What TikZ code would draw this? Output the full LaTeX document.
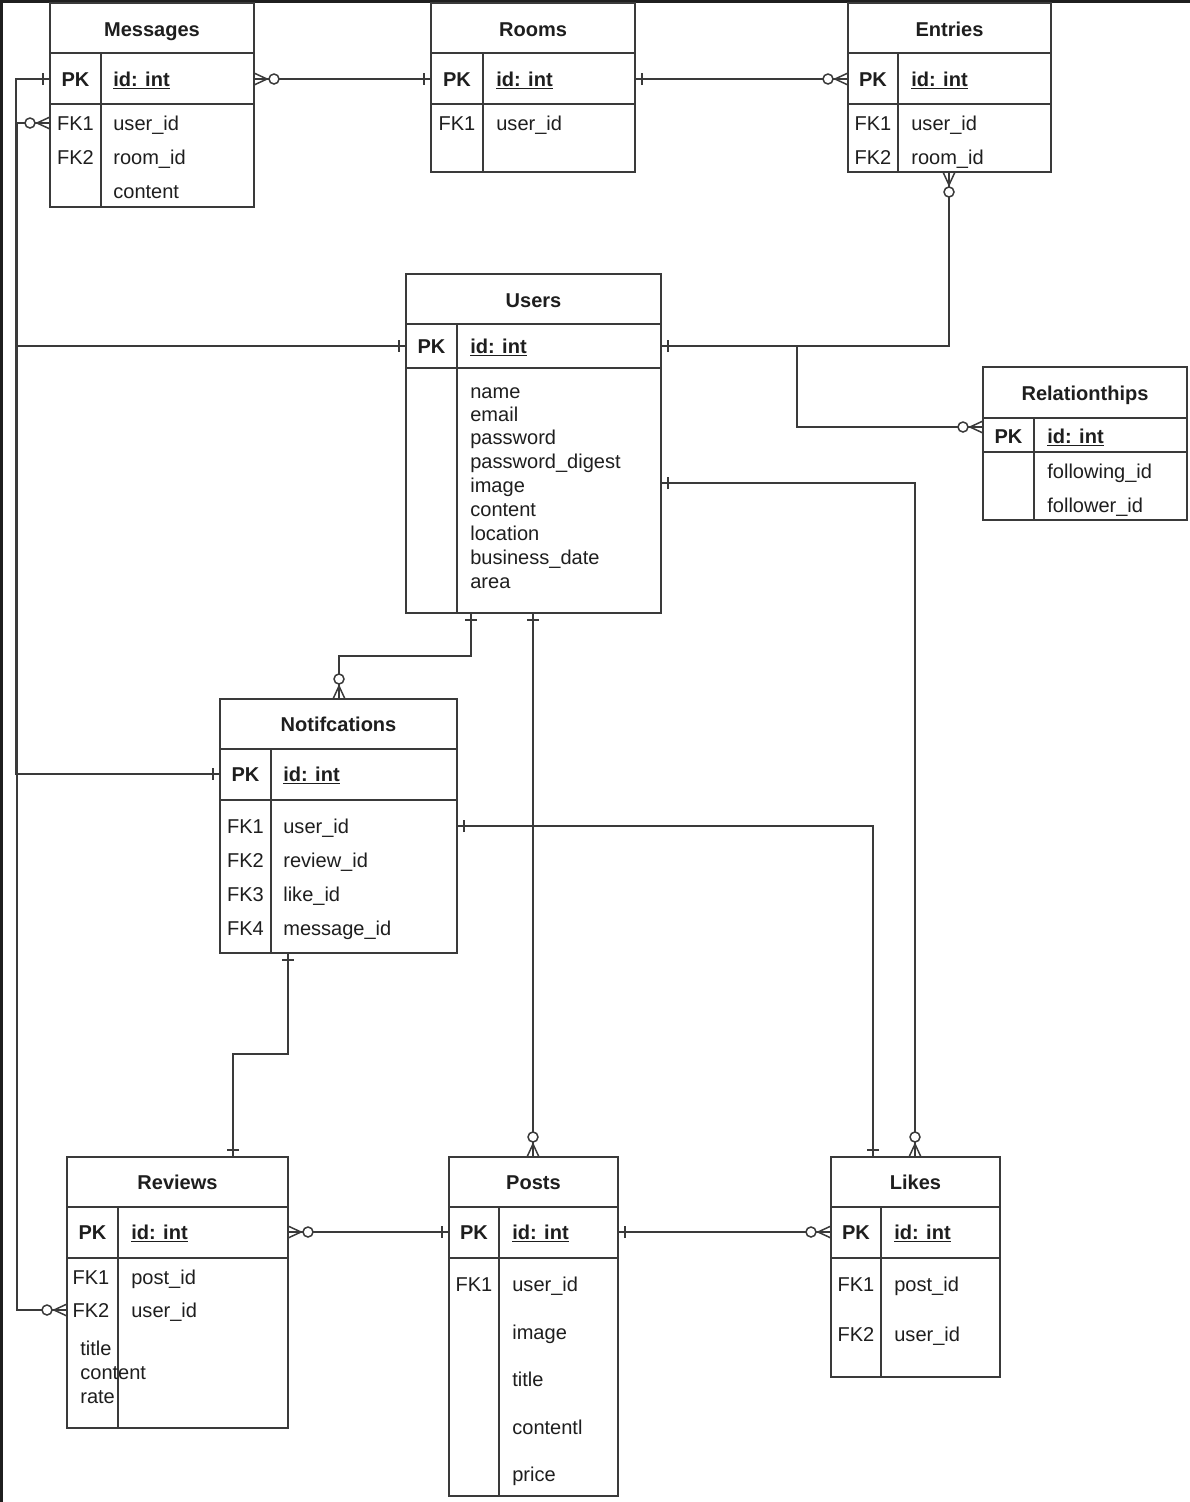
\documentclass[tikz,border=0pt]{standalone}
\usepackage{fontspec}
\setmainfont{Liberation Sans}
\definecolor{ln}{HTML}{3A3A3A}
\definecolor{tx}{HTML}{1E1E1E}
\tikzset{
  tbl/.style={draw=ln, line width=0.85pt},
  conn/.style={draw=ln, line width=0.85pt},
  ttl/.style={anchor=base, inner sep=0pt, text=tx, font=\fontsize{11.4}{13}\selectfont\bfseries},
  key/.style={anchor=base, inner sep=0pt, text=tx, font=\fontsize{11.4}{13}\selectfont},
  pkkey/.style={anchor=base, inner sep=0pt, text=tx, font=\fontsize{11.4}{13}\selectfont\bfseries},
  fld/.style={anchor=base west, inner sep=0pt, text=tx, font=\fontsize{11.4}{13}\selectfont},
  pkfld/.style={anchor=base west, inner sep=0pt, text=tx, font=\fontsize{11.4}{13}\selectfont\bfseries},
}
% table: name, x1, y1, x2, y2, title line y, pk line y, divider x
\newcommand\erbox[8]{%
  \draw[tbl] (#2,#3) rectangle (#4,#5);
  \draw[tbl] (#2,#6) -- (#4,#6);
  \draw[tbl] (#2,#7) -- (#4,#7);
  \draw[tbl] (#8,#6) -- (#8,#5);
  \coordinate (#1-nw) at (#2,#3);
  \coordinate (#1-se) at (#4,#5);
}
\newcommand\zmany[2]{%
  \begin{scope}[shift={(#1)}, rotate=#2]
    \draw[conn] (0,6) -- (13,0) -- (0,-6) (0,0) -- (14,0);
    \draw[conn, fill=white] (20,0) circle[radius=0.1cm];
  \end{scope}}
\newcommand\onebar[2]{%
  \begin{scope}[shift={(#1)}, rotate=#2]
    \draw[conn] (7,6) -- (7,-6);
  \end{scope}}
\begin{document}
\begin{tikzpicture}[x=0.02cm, y=-0.02cm]
\useasboundingbox (0,0) rectangle (1190,1502);
\fill[white] (0,0) rectangle (1190,1502);
\fill[black!88] (0,0) rectangle (1190,3);
\fill[black!88] (0,0) rectangle (3,1502);

% ---------- tables ----------
\erbox{msg}{50}{3}{254}{207}{53}{104}{101}
\node[ttl] (msgT) at (152,36) {Messages};
\node[pkkey] (msgPK) at (75.5,86) {PK};
\node[pkfld] (msgId) at (113,86) {\underline{id: int}};
\node[key] at (75.5,130) {FK1};
\node[key] at (75.5,164) {FK2};
\node[fld] at (113,130) {user\_id};
\node[fld] at (113,164) {room\_id};
\node[fld] at (113,198) {content};

\erbox{room}{431}{3}{635}{172}{53}{104}{483}
\node[ttl] (roomT) at (533,36) {Rooms};
\node[pkkey] at (457,86) {PK};
\node[pkfld] at (496,86) {\underline{id: int}};
\node[key] at (457,130) {FK1};
\node[fld] at (496,130) {user\_id};

\erbox{ent}{848}{3}{1051}{172}{53}{104}{898}
\node[ttl] (entT) at (949.5,36) {Entries};
\node[pkkey] at (873,86) {PK};
\node[pkfld] at (911,86) {\underline{id: int}};
\node[key] at (873,130) {FK1};
\node[key] at (873,164) {FK2};
\node[fld] at (911,130) {user\_id};
\node[fld] at (911,164) {room\_id};

\erbox{usr}{406}{274}{661}{613}{324}{368}{457}
\node[ttl] (usrT) at (533.5,307) {Users};
\node[pkkey] at (431.5,353) {PK};
\node[pkfld] at (470,353) {\underline{id: int}};
\node[fld] at (470,398) {name};
\node[fld] at (470,421) {email};
\node[fld] at (470,444) {password};
\node[fld] at (470,468) {password\_digest};
\node[fld] at (470,492) {image};
\node[fld] at (470,516) {content};
\node[fld] at (470,540) {location};
\node[fld] at (470,564) {business\_date};
\node[fld] at (470,588) {area};

\erbox{rel}{983}{367}{1187}{520}{418}{452}{1034}
\node[ttl] (relT) at (1085,400) {Relationthips};
\node[pkkey] at (1008.5,443) {PK};
\node[pkfld] at (1047,443) {\underline{id: int}};
\node[fld] at (1047,478) {following\_id};
\node[fld] at (1047,512) {follower\_id};

\erbox{not}{220}{699}{457}{953}{749}{800}{271}
\node[ttl] (notT) at (338.5,731) {Notifcations};
\node[pkkey] at (245.5,781) {PK};
\node[pkfld] at (283,781) {\underline{id: int}};
\node[key] at (245.5,833) {FK1};
\node[key] at (245.5,867) {FK2};
\node[key] at (245.5,901) {FK3};
\node[key] at (245.5,935) {FK4};
\node[fld] at (283,833) {user\_id};
\node[fld] at (283,867) {review\_id};
\node[fld] at (283,901) {like\_id};
\node[fld] at (283,935) {message\_id};

\erbox{rev}{67}{1157}{288}{1428}{1207}{1258}{118}
\node[ttl] (revT) at (177.5,1189) {Reviews};
\node[pkkey] at (92.5,1239) {PK};
\node[pkfld] at (131,1239) {\underline{id: int}};
\node[key] at (91,1284) {FK1};
\node[key] at (91,1317) {FK2};
\node[fld] at (131,1284) {post\_id};
\node[fld] at (131,1317) {user\_id};
\node[fld] at (80,1355) {title};
\node[fld] at (80,1379) {content};
\node[fld] at (80,1403) {rate};

\erbox{pst}{449}{1157}{618}{1496}{1207}{1258}{499}
\node[ttl] (pstT) at (533.5,1189) {Posts};
\node[pkkey] at (474,1239) {PK};
\node[pkfld] at (512,1239) {\underline{id: int}};
\node[key] at (474,1291) {FK1};
\node[fld] at (512,1291) {user\_id};
\node[fld] at (512,1339) {image};
\node[fld] at (512,1386) {title};
\node[fld] at (512,1434) {contentl};
\node[fld] at (512,1481) {price};

\erbox{lik}{831}{1157}{1000}{1377}{1207}{1258}{881}
\node[ttl] (likT) at (915.5,1189) {Likes};
\node[pkkey] at (856,1239) {PK};
\node[pkfld] at (894,1239) {\underline{id: int}};
\node[key] at (856,1291) {FK1};
\node[key] at (856,1341) {FK2};
\node[fld] at (894,1291) {post\_id};
\node[fld] at (894,1341) {user\_id};

% ---------- connector end points ----------
\coordinate (msgPKr) at (254,79);
\coordinate (msgPKl) at (50,79);
\coordinate (msgFKl) at (50,123);
\coordinate (roomPKl) at (431,79);
\coordinate (roomPKr) at (635,79);
\coordinate (entPKl) at (848,79);
\coordinate (entB) at (949,172);
\coordinate (usrPKr) at (661,346);
\coordinate (usrPKl) at (406,346);
\coordinate (usrR) at (661,483);
\coordinate (usrB1) at (471,613);
\coordinate (usrB2) at (533,613);
\coordinate (relPKl) at (983,427);
\coordinate (notTop) at (339,699);
\coordinate (notPKl) at (220,774);
\coordinate (notR) at (457,826);
\coordinate (notB) at (288,953);
\coordinate (revTop) at (233,1157);
\coordinate (revPKr) at (288,1232);
\coordinate (revFKl) at (67,1310);
\coordinate (pstTop) at (533,1157);
\coordinate (pstPKl) at (449,1232);
\coordinate (pstPKr) at (618,1232);
\coordinate (likTop1) at (873,1157);
\coordinate (likTop2) at (915,1157);
\coordinate (likPKl) at (831,1232);

% ---------- connectors ----------
\draw[conn] (msgPKr) -- (roomPKl);
\draw[conn] (roomPKr) -- (entPKl);
\draw[conn] (entB) |- (usrPKr);
\draw[conn] (usrPKr) -- ++(136,0) |- (relPKl);
\draw[conn] (usrR) -| (likTop2);
\draw[conn] (usrB1) -- ++(0,43) -| (notTop);
\draw[conn] (usrB2) -- (pstTop);
\draw[conn] (msgPKl) -- ++(-34,0) |- (notPKl);
\draw[conn] (usrPKl) -- ++(-389,0) |- (msgFKl);
\draw[conn] (usrPKl) -- ++(-389,0) |- (revFKl);
\draw[conn] (notR) -| (likTop1);
\draw[conn] (notB) -- ++(0,101) -| (revTop);
\draw[conn] (revPKr) -- (pstPKl);
\draw[conn] (pstPKr) -- (likPKl);

% ---------- cardinality marks ----------
\zmany{msgPKr}{0}
\onebar{roomPKl}{180}
\onebar{roomPKr}{0}
\zmany{entPKl}{180}
\zmany{entB}{270}
\onebar{usrPKr}{0}
\zmany{relPKl}{180}
\onebar{usrR}{0}
\zmany{likTop2}{90}
\onebar{usrB1}{270}
\onebar{usrB2}{270}
\zmany{notTop}{90}
\zmany{pstTop}{90}
\onebar{msgPKl}{180}
\zmany{msgFKl}{180}
\onebar{usrPKl}{180}
\onebar{notPKl}{180}
\zmany{revFKl}{180}
\onebar{notR}{0}
\onebar{likTop1}{90}
\onebar{notB}{270}
\onebar{revTop}{90}
\zmany{revPKr}{0}
\onebar{pstPKl}{180}
\onebar{pstPKr}{0}
\zmany{likPKl}{180}
\end{tikzpicture}
\end{document}
